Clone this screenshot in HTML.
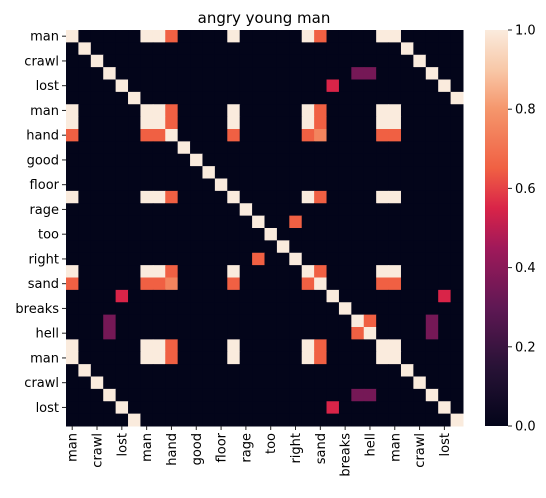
<!DOCTYPE html>
<html><head><meta charset="utf-8"><style>
body{margin:0;background:#fff;font-family:"Liberation Sans","DejaVu Sans",sans-serif;}
svg text{font-family:"DejaVu Sans","Liberation Sans",sans-serif;fill:#000;}
</style></head><body>
<svg id="chart" width="546" height="493">
<text x="264" y="23" text-anchor="middle" font-size="15">angry young man</text>
<g id="cells"></g><g id="ticks"></g><g id="cbar"></g>
</svg>
<script>
const tokenIds=[0,1,2,3,4,5,0,0,8,9,10,11,12,0,14,15,16,17,18,0,20,21,22,23,24,0,0,1,2,3,4,5];
const tickLabels=["man","crawl","lost","man","hand","good","floor","rage","too","right","sand","breaks","hell","man","crawl","lost"];
const pairA=[0,0,8,15,4,3,3,23];
const pairB=[8,20,20,18,21,23,24,24];
const pairVal=[0.65,0.65,0.75,0.65,0.55,0.35,0.35,0.65];
const cbarTicks=[0,0.2,0.4,0.6,0.8,1.0];
const NS="http://www.w3.org/2000/svg";
const X0=66,X1=463,Y0=30,Y1=426,n=tokenIds.length;
const cw=(X1-X0)/n,ch=(Y1-Y0)/n;
const xs=i=>X0+i*cw, ys=i=>Y0+i*ch;
const stops=[[0,[3,5,26]],[0.15,[40,18,54]],[0.3,[95,24,84]],[0.45,[160,25,90]],[0.55,[217,36,72]],[0.65,[240,96,67]],[0.8,[245,150,108]],[0.9,[248,200,168]],[1,[250,235,221]]];
function color(v){for(let k=1;k<stops.length;k++){if(v<=stops[k][0]){const a=stops[k-1],b=stops[k],t=(v-a[0])/(b[0]-a[0]);return `rgb(${a[1].map((c,j)=>Math.round(c+(b[1][j]-c)*t)).join(',')})`;}}return 'rgb(250,235,221)';}
function val(i,j){if(tokenIds[i]===tokenIds[j])return 1;const a=tokenIds[i],b=tokenIds[j];for(let k=0;k<pairA.length;k++){if((pairA[k]===a&&pairB[k]===b)||(pairA[k]===b&&pairB[k]===a))return pairVal[k];}return 0;}
const cg=document.getElementById('cells');
for(let i=0;i<n;i++)for(let j=0;j<n;j++){const r=document.createElementNS(NS,'rect');
r.setAttribute('x',xs(j));r.setAttribute('y',ys(i));r.setAttribute('width',cw+0.5);r.setAttribute('height',ch+0.5);r.setAttribute('fill',color(val(i,j)));


cg.appendChild(r);}
const tg=document.getElementById('ticks');
tickLabels.forEach((lab,k)=>{const idx=k*2;const cy=ys(idx)+ch/2,cx=xs(idx)+cw/2;
const l=document.createElementNS(NS,'line');l.setAttribute('x1',X0-4);l.setAttribute('x2',X0);l.setAttribute('y1',cy);l.setAttribute('y2',cy);l.setAttribute('stroke','#222');tg.appendChild(l);
const t=document.createElementNS(NS,'text');t.setAttribute('x',X0-7);t.setAttribute('y',cy+4.5);t.setAttribute('text-anchor','end');t.setAttribute('font-size','13');t.textContent=lab;


tg.appendChild(t);
const l2=document.createElementNS(NS,'line');l2.setAttribute('x1',cx);l2.setAttribute('x2',cx);l2.setAttribute('y1',Y1);l2.setAttribute('y2',Y1+4);l2.setAttribute('stroke','#222');tg.appendChild(l2);
const t2=document.createElementNS(NS,'text');t2.setAttribute('transform',`translate(${cx+4.5},${Y1+7}) rotate(-90)`);t2.setAttribute('text-anchor','end');t2.setAttribute('font-size','13');t2.textContent=lab;


tg.appendChild(t2);});
const bg=document.getElementById('cbar');const BX=485,BW=23;
const defs=document.createElementNS(NS,'defs');const grad=document.createElementNS(NS,'linearGradient');grad.setAttribute('id','rk');grad.setAttribute('x1','0');grad.setAttribute('y1','1');grad.setAttribute('x2','0');grad.setAttribute('y2','0');
for(let s=0;s<=20;s++){const st=document.createElementNS(NS,'stop');st.setAttribute('offset',s/20);st.setAttribute('stop-color',color(s/20));grad.appendChild(st);}
defs.appendChild(grad);bg.appendChild(defs);
const cb=document.createElementNS(NS,'rect');cb.setAttribute('x',BX);cb.setAttribute('y',Y0);cb.setAttribute('width',BW);cb.setAttribute('height',Y1-Y0);cb.setAttribute('fill','url(#rk)');


bg.appendChild(cb);
cbarTicks.forEach(v=>{const y=Y1-v*(Y1-Y0);const l=document.createElementNS(NS,'line');l.setAttribute('x1',BX+BW);l.setAttribute('x2',BX+BW+4);l.setAttribute('y1',y);l.setAttribute('y2',y);l.setAttribute('stroke','#222');bg.appendChild(l);
const t=document.createElementNS(NS,'text');t.setAttribute('x',BX+BW+7);t.setAttribute('y',y+4.5);t.setAttribute('font-size','13');t.textContent=v.toFixed(1);


bg.appendChild(t);});
</script>
</body></html>
